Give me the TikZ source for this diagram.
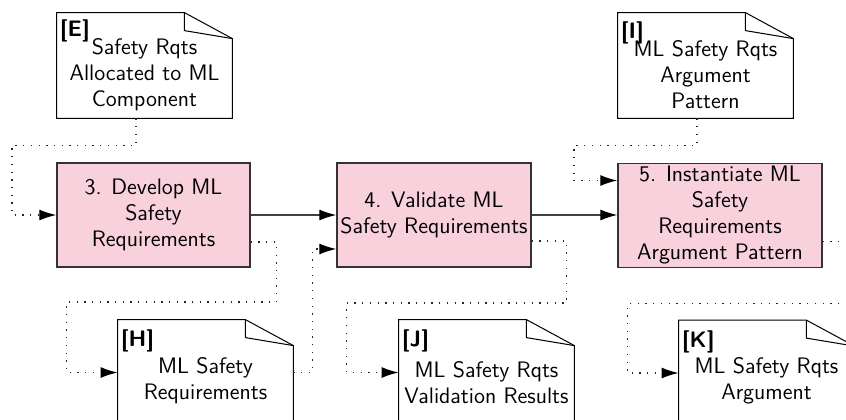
\documentclass[tikz,border=0pt]{standalone}
\usetikzlibrary{arrows.meta}
\definecolor{procpink}{RGB}{249,209,221}
\newcommand\docoutline[1]{%
  \draw[docline] (#1.north west) -- ([xshift=-24pt]#1.north east) -- ([yshift=-13pt]#1.north east) -- (#1.south east) -- (#1.south west) -- cycle;
  \draw[docline] ([xshift=-24pt]#1.north east) -- ([xshift=-24pt,yshift=-9pt]#1.north east) -- ([yshift=-13pt]#1.north east);}
\tikzset{
  basefont/.style={font=\sffamily\fontsize{11.2}{13}\selectfont},
  proc/.style={basefont, draw=black!80, line width=0.7pt, fill=procpink, align=center, minimum height=52pt, inner sep=0pt},
  docnode/.style={minimum width=87.5pt, minimum height=52.5pt, inner sep=0pt},
  doctext/.style={basefont, align=center, inner sep=0pt},
  doclabel/.style={anchor=north west, inner sep=0pt, font=\sffamily\bfseries\fontsize{11.2}{13}\selectfont},
  docline/.style={draw=black, line width=0.5pt},
  tipstyle/.style={-{Latex[length=8.5pt,width=5.5pt,color=black]}},
  solidflow/.style={draw=black!75, line width=0.6pt, tipstyle},
  dotflow/.style={draw=black!85, line width=0.65pt, dash pattern=on 0.65pt off 3.2pt, tipstyle},
}
\begin{document}
\begin{tikzpicture}[x=0.5pt, y=-0.5pt]
\useasboundingbox (0,0) rectangle (846,419);
\clip (0,0) rectangle (846,419);

% process boxes
\node[proc, minimum width=96.5pt] (P3) at (153.5,215) {3. Develop ML\\Safety\\Requirements};
\node[proc, minimum width=97pt] (P4) at (434,215) {4. Validate ML\\Safety Requirements};
\node[proc, minimum width=102pt] (P5) at (720,215.5) {5. Instantiate ML\\Safety\\Requirements\\Argument Pattern};

% documents
\node[docnode] (E) at (144.5,65.5) {};
\node[docnode] (I) at (705.5,65.5) {};
\node[docnode] (H) at (205.5,372.5) {};
\node[docnode] (J) at (486.5,372.5) {};
\node[docnode] (K) at (766.5,373) {};
\docoutline{E}
\docoutline{I}
\docoutline{H}
\docoutline{J}
\docoutline{K}

\node[doctext] (Et) at ([yshift=-4.5pt]E.center) {Safety Rqts\\Allocated to ML\\Component};
\node[doctext] (It) at ([yshift=-4.5pt]I.center) {ML Safety Rqts\\Argument\\Pattern};
\node[doctext] (Ht) at ([yshift=-4pt]H.center) {ML Safety\\Requirements};
\node[doctext] (Jt) at ([yshift=-5pt]J.center) {ML Safety Rqts\\Validation Results};
\node[doctext] (Kt) at ([yshift=-4pt]K.center) {ML Safety Rqts\\Argument};

\node[doclabel] (El) at ([xshift=1.5pt,yshift=-3.5pt]E.north west) {[E]};
\node[doclabel] (Il) at ([xshift=1.5pt,yshift=-4.5pt]I.north west) {[I]};
\node[doclabel] (Hl) at ([xshift=1.5pt,yshift=-5pt]H.north west) {[H]};
\node[doclabel] (Jl) at ([xshift=1.5pt,yshift=-5pt]J.north west) {[J]};
\node[doclabel] (Kl) at ([xshift=1.5pt,yshift=-5pt]K.north west) {[K]};

% solid flow
\draw[solidflow] (P3.east) -- (P4.west);
\draw[solidflow] (P4.east) -- (P5.west |- P4.east);

% dotted flows
\draw[dotflow] ([xshift=-4.25pt]E.south) -- ++(0,27) -- ++(-124,0) |- (P3.west);
\draw[dotflow] ([yshift=-13.5pt]P3.east) -- ++(26,0) -- ++(0,60) -- ++(-210,0) |- (H.west);
\draw[dotflow] (H.east) -- ++(19,0) |- ([yshift=-17pt]P4.west);
\draw[dotflow] ([yshift=-13pt]P4.east) -- ++(35,0) -- ++(0,62) -- ++(-220,0) |- (J.west);
\draw[dotflow] ([xshift=-4.25pt]I.south) -- ++(0,27) -- ++(-123,0) |- ([yshift=17.5pt]P5.west);
\draw[dotflow] ([yshift=-13pt]P5.east) -- ++(35,0) -- ++(0,62) -- ++(-230,0) |- (K.west);
\end{tikzpicture}
\end{document}
